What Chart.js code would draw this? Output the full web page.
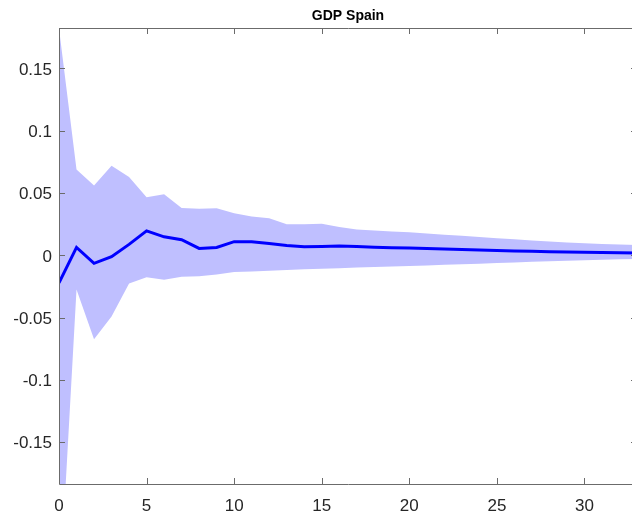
<!DOCTYPE html>
<html>
<head>
<meta charset="utf-8">
<title>GDP Spain</title>
<script src="https://cdn.jsdelivr.net/npm/chart.js@4"></script>
<style>
    html, body { margin: 0; padding: 0; background: #fff; overflow: hidden; }
    #wrap { width: 640px; height: 520px; }
</style>
</head>
<body>
<div id="wrap"><canvas id="irfChart" width="640" height="520"></canvas></div>
<script>
/**
 * Impulse response of GDP Spain with confidence band
 */

// Horizon (periods)
const periods = [0, 1, 2, 3, 4, 5, 6, 7, 8, 9, 10, 11, 12, 13, 14, 15, 16,
    17, 18, 19, 20, 21, 22, 23, 24, 25, 26, 27, 28, 29, 30, 31, 32, 33];

// Median response
const response = [-0.022, 0.0064, -0.0064, -0.0011, 0.0088, 0.0197, 0.0149, 0.0126,
    0.0056, 0.0064, 0.011, 0.011, 0.0096, 0.0079, 0.0069, 0.0072, 0.0076,
    0.0072, 0.0066, 0.0062, 0.0059, 0.0055, 0.0051, 0.0048, 0.0044, 0.0040,
    0.0036, 0.0033, 0.0030, 0.0027, 0.0025, 0.0023, 0.0021, 0.0020];

// Upper bound of the band
const upperBand = [0.182, 0.069, 0.056, 0.072, 0.063, 0.0466, 0.049, 0.038,
    0.0375, 0.0378, 0.0338, 0.0312, 0.0297, 0.0249, 0.0250, 0.0254, 0.0228,
    0.0208, 0.0200, 0.0192, 0.0185, 0.0176, 0.0166, 0.0157, 0.0147, 0.0138,
    0.0129, 0.0120, 0.0111, 0.0104, 0.0097, 0.0092, 0.0088, 0.0084];

// Lower bound of the band
const lowerBand = [-0.28, -0.0273, -0.0674, -0.049, -0.0225, -0.0175, -0.0195, -0.0172,
    -0.0168, -0.0153, -0.0134, -0.0129, -0.0123, -0.0118, -0.0112, -0.0107, -0.0104,
    -0.0098, -0.0093, -0.0089, -0.0086, -0.0081, -0.0076, -0.0072, -0.0067, -0.0062,
    -0.0057, -0.0052, -0.0047, -0.0043, -0.0039, -0.0035, -0.0032, -0.0030];

// Axis ticks
const xTicks = [0, 5, 10, 15, 20, 25, 30];
const xTickLabels = ['0', '5', '10', '15', '20', '25', '30'];
const yTicks = [-0.15, -0.1, -0.05, 0, 0.05, 0.1, 0.15];
const yTickLabels = ['-0.15', '-0.1', '-0.05', '0', '0.05', '0.1', '0.15'];

const AXIS_COLOR = '#6b6b6b';
const TEXT_COLOR = '#262626';

let irfChart = null;

/**
 * Pair periods with values for a linear x scale
 */
function toPoints(values) {
    return periods.map((p, i) => ({ x: p, y: values[i] }));
}

/**
 * MATLAB style box: axis lines on four sides, ticks pointing inwards
 */
const boxPlugin = {
    id: 'matlabBox',
    afterDraw(chart) {
        const { ctx, chartArea: a, scales } = chart;
        const len = 6;
        ctx.save();
        ctx.strokeStyle = AXIS_COLOR;
        ctx.lineWidth = 1;
        ctx.beginPath();
        ctx.rect(Math.round(a.left) + 0.5, Math.round(a.top) + 0.5,
            Math.round(a.right - a.left), Math.round(a.bottom - a.top));
        xTicks.forEach(v => {
            const px = Math.round(scales.x.getPixelForValue(v)) + 0.5;
            ctx.moveTo(px, a.bottom);
            ctx.lineTo(px, a.bottom - len);
            ctx.moveTo(px, a.top);
            ctx.lineTo(px, a.top + len);
        });
        yTicks.forEach(v => {
            const py = Math.round(scales.y.getPixelForValue(v)) + 0.5;
            ctx.moveTo(a.left, py);
            ctx.lineTo(a.left + len, py);
            ctx.moveTo(a.right, py);
            ctx.lineTo(a.right - len, py);
        });
        ctx.stroke();
        ctx.restore();
    }
};

/**
 * Build the chart
 */
function init() {
    const canvas = document.getElementById('irfChart');

    irfChart = new Chart(canvas, {
        type: 'line',
        data: {
            datasets: [
                {
                    label: 'GDP Spain',
                    data: toPoints(response),
                    borderColor: '#0000ff',
                    borderWidth: 3,
                    pointRadius: 0,
                    fill: false,
                    tension: 0
                },
                {
                    label: 'upper',
                    data: toPoints(upperBand),
                    borderWidth: 0,
                    borderColor: 'rgba(0,0,0,0)',
                    backgroundColor: 'rgb(191,191,255)',
                    pointRadius: 0,
                    fill: '+1',
                    tension: 0
                },
                {
                    label: 'lower',
                    data: toPoints(lowerBand),
                    borderWidth: 0,
                    borderColor: 'rgba(0,0,0,0)',
                    pointRadius: 0,
                    fill: false,
                    tension: 0
                }
            ]
        },
        options: {
            responsive: false,
            animation: false,
            layout: { padding: { left: 0, right: 3, top: 0, bottom: 0 } },
            plugins: {
                legend: { display: false },
                tooltip: { enabled: false },
                title: {
                    display: true,
                    text: 'GDP Spain',
                    fullSize: false,
                    color: '#000',
                    font: { family: 'Liberation Sans, Arial, sans-serif', size: 14, weight: 'bold' },
                    padding: { top: 7.5, bottom: 3.7 }
                }
            },
            scales: {
                x: {
                    type: 'linear',
                    min: 0,
                    max: 33,
                    grid: { display: false, drawTicks: false },
                    border: { display: false },
                    afterBuildTicks: scale => {
                        scale.ticks = xTicks.map(v => ({ value: v }));
                    },
                    afterFit: scale => { scale.height = 36; },
                    ticks: {
                        autoSkip: false,
                        maxRotation: 0,
                        padding: 12,
                        color: TEXT_COLOR,
                        font: { family: 'Liberation Sans, Arial, sans-serif', size: 17 },
                        callback: (v, i) => xTickLabels[i]
                    }
                },
                y: {
                    type: 'linear',
                    min: -0.1835,
                    max: 0.1825,
                    grid: { display: false, drawTicks: false },
                    border: { display: false },
                    afterBuildTicks: scale => {
                        scale.ticks = yTicks.map(v => ({ value: v }));
                    },
                    afterFit: scale => { scale.width = 59; },
                    ticks: {
                        autoSkip: false,
                        padding: 7,
                        labelOffset: 1.5,
                        color: TEXT_COLOR,
                        font: { family: 'Liberation Sans, Arial, sans-serif', size: 17 },
                        callback: (v, i) => yTickLabels[i]
                    }
                }
            }
        },
        plugins: [boxPlugin]
    });
}

document.addEventListener('DOMContentLoaded', init);
</script>
</body>
</html>
